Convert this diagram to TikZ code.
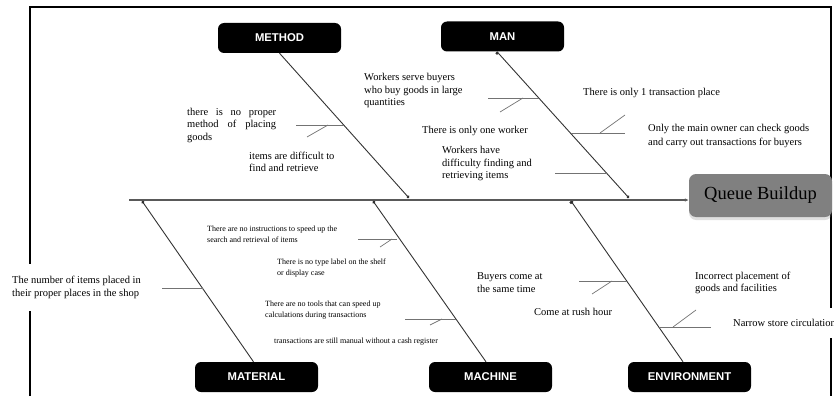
\documentclass[tikz,border=0pt]{standalone}
\usepackage{fontspec}
\setmainfont{Liberation Serif}
\newfontfamily\catfont{Liberation Sans}
\usetikzlibrary{arrows.meta, shadows}

\begin{document}
\begin{tikzpicture}[x=1pt, y=-1pt,
    cat/.style={fill=black, rounded corners=6pt, minimum width=123pt, minimum height=30pt,
        text=white, font=\catfont\bfseries\fontsize{11.3}{13}\selectfont},
    effect/.style={fill=black!50, rounded corners=7pt, minimum width=143pt, minimum height=43pt,
        font=\fontsize{18.5}{20}\selectfont, drop shadow={shadow xshift=0pt, shadow yshift=-3pt, opacity=.25}},
    cause/.style={anchor=west, inner sep=0pt, align=left, font=\fontsize{10.5}{12.5}\selectfont},
    small/.style={cause, font=\fontsize{8}{11}\selectfont},
    spine/.style={draw=black!65, line width=1.2pt},
    bone/.style={draw=black!80, line width=0.9pt},
    rib/.style={draw=black!55, line width=0.9pt}]
    \useasboundingbox (0,0) rectangle (834,396);

    % frame
    \draw[line width=1.6pt] (30,396) -- (30,7) -- (831,7) -- (831,396);

    % head and categories
    \node[effect] (QUEUE) at (760.5,195.5) {Queue Buildup};
    \node[cat] (METHOD) at (279.5,38) {METHOD};
    \node[cat] (MAN) at (502.5,36.5) {MAN};
    \node[cat] (MATERIAL) at (256.5,377) {MATERIAL};
    \node[cat] (MACHINE) at (490.5,377) {MACHINE};
    \node[cat] (ENVIRONMENT) at (689.5,377) {ENVIRONMENT};

    % spine
    \coordinate (tail) at (129,200);
    \draw[spine, -{Latex[length=4pt,width=3.5pt]}] (tail) -- (tail -| QUEUE.west);

    % bones
    \coordinate (mth) at (409,198);
    \coordinate (man) at (629,198);
    \coordinate (mat) at (142,201);
    \coordinate (mac) at (373,201);
    \coordinate (env) at (571,201);
    \path[bone, -{Circle[length=3pt]}]
        (METHOD.south) edge (mth)
        ([xshift=-5.5pt]MAN.south) edge (man);
    \path[bone, {Circle[length=3pt]}-]
        (mat) edge ([xshift=-3pt]MATERIAL.north)
        (mac) edge ([xshift=-4.5pt]MACHINE.north)
        (env) edge ([xshift=-6.5pt]ENVIRONMENT.north);

    % ribs: name/root x/free x/y
    \foreach \n/\xa/\xb/\y in {a/344/296/125, b/539/488/98, c/571/625/133, d/607/555/173,
            e/203/162/288, f/397/358/239, g/456/405/319, h/627/579/281, i/660/711/327} {
        \coordinate (rib\n) at (\xa,\y);
        \coordinate (end\n) at (\xb,\y);
        \draw[rib] (rib\n) -- (end\n);
    }
    % ticks
    \foreach \n/\xa/\ya/\xb/\yb in {a/328/125/307/137, b/523/98/500/112, c/600/133/625/115,
            f/392/239/380/247, g/442/319/430/325, h/612/281/592/294, i/673/327/696/310} {
        \coordinate (tick\n) at (\xb,\yb);
        \draw[rib, line width=0.7pt] (\xa,\ya) -- (tick\n);
    }

    % causes
    \node[cause, align=justify, text width=89pt] (noMethod) at (187,125) {there is no proper method of placing goods};
    \node[cause] (hardFind) at (249,162) {items are difficult to\\find and retrieve};
    \node[cause] (bigBuyers) at (364,90.5) {Workers serve buyers\\who buy goods in large\\quantities};
    \node[cause] (oneWorker) at (422,131) {There is only one worker};
    \node[cause] (workersHard) at (442,163.5) {Workers have\\difficulty finding and\\retrieving items};
    \node[cause] (onePlace) at (583,93) {There is only 1 transaction place};
    \node[cause, font=\fontsize{10.5}{14}\selectfont] (onlyOwner) at (648,136) {Only the main owner can check goods\\and carry out transactions for buyers};
    \node[cause, fill=white, inner ysep=12pt] (numItems) at (12,287.5) {The number of items placed in\\their proper places in the shop};
    \node[small] (noGuide) at (207,234.5) {There are no instructions to speed up the\\search and retrieval of items};
    \node[small] (noLabel) at (277,268.5) {There is no type label on the shelf\\or display case};
    \node[small] (noTools) at (265,310.5) {There are no tools that can speed up\\calculations during transactions};
    \node[small] (manual) at (274,342) {transactions are still manual without a cash register};
    \node[cause] (sameTime) at (477,282.5) {Buyers come at\\the same time};
    \node[cause] (rushHour) at (534,312) {Come at rush hour};
    \node[cause] (placement) at (695,283) {Incorrect placement of\\goods and facilities};
    \node[cause, fill=white, inner ysep=11pt] (narrow) at (733,323) {Narrow store circulation};
\end{tikzpicture}
\end{document}
